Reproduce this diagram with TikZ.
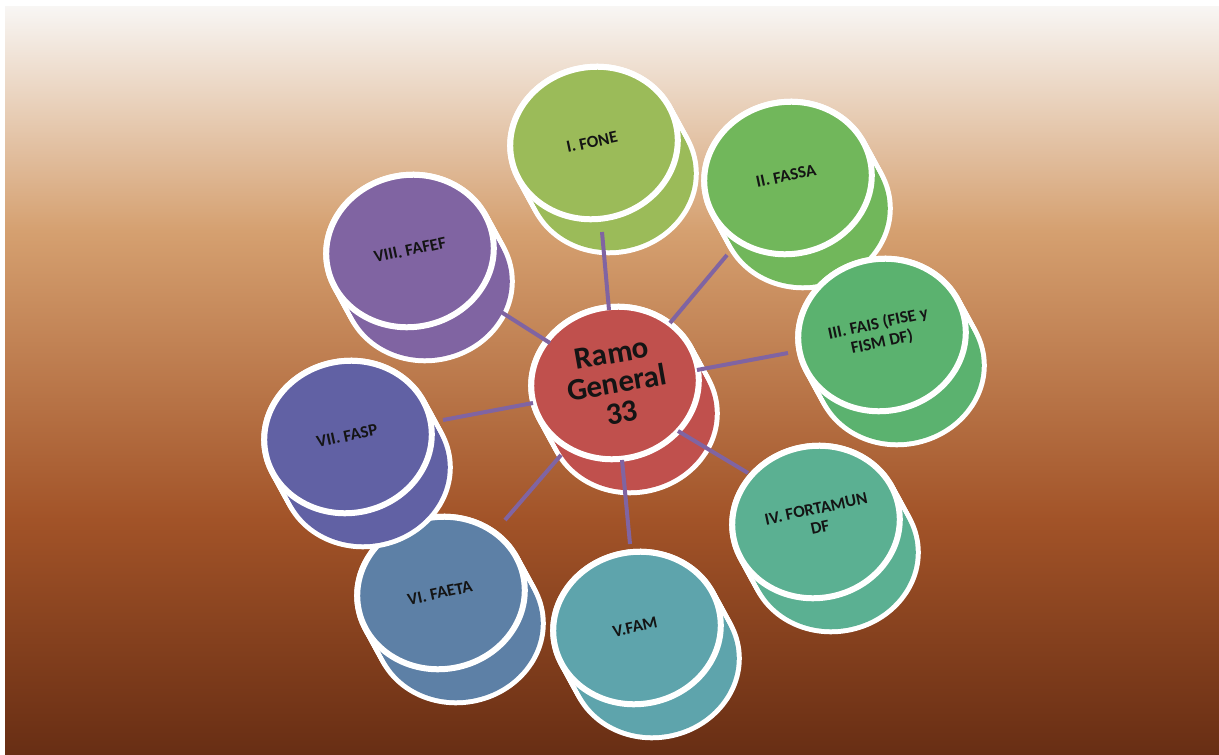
\documentclass[tikz,border=0pt]{standalone}
\usepackage{fontspec}
\setmainfont{Carlito}
\usetikzlibrary{calc}
\definecolor{bgA}{RGB}{104,46,20}
\definecolor{bgB}{RGB}{162,83,40}
\definecolor{bgC}{RGB}{213,160,112}
\definecolor{bgD}{RGB}{248,246,244}
\definecolor{cRamo}{RGB}{192,80,77}
\definecolor{cI}{RGB}{155,187,89}
\definecolor{cII}{RGB}{113,183,91}
\definecolor{cIII}{RGB}{91,178,111}
\definecolor{cIV}{RGB}{91,176,146}
\definecolor{cV}{RGB}{94,164,172}
\definecolor{cVI}{RGB}{93,128,166}
\definecolor{cVII}{RGB}{97,97,164}
\definecolor{cVIII}{RGB}{128,100,162}
\definecolor{link}{RGB}{128,100,162}
\definecolor{ink}{RGB}{20,20,20}
\pgfdeclareverticalshading{bgshade}{100bp}{color(0bp)=(bgA); color(25bp)=(bgA); color(40.7bp)=(bgB); color(60bp)=(bgC); color(75bp)=(bgD); color(100bp)=(bgD)}
\tikzset{
  lbl/.style={font=\bfseries\fontsize{17}{19}\selectfont, align=center, rotate=12, text=ink, inner sep=0pt},
  biglbl/.style={font=\bfseries\fontsize{31}{30}\selectfont, align=center, rotate=10, text=ink, inner sep=0pt},
  connector/.style={draw=link, line width=4pt},
}
% #1 x, #2 y, #3 colour
\newcommand\mycylinder[3]{%
  \foreach \k in {0,...,10}{%
    \draw[white, line width=10pt, shift={(#1+\k*1.8,#2+\k*3.3)}, rotate=10] (0,0) ellipse (82 and 74);}
  \foreach \k in {0,...,10}{%
    \fill[#3, shift={(#1+\k*1.8,#2+\k*3.3)}, rotate=10] (0,0) ellipse (82 and 74);}
  \draw[white, line width=6pt, fill=#3, shift={(#1,#2)}, rotate=10] (0,0) ellipse (84 and 76);
}
\begin{document}
\begin{tikzpicture}[x=1pt,y=-1pt]
\useasboundingbox (0,0) rectangle (1219,755);
\fill[white] (0,0) rectangle (1219,755);
\shade[shading=bgshade] (5,6) rectangle (1219,755);

% cylinders
\mycylinder{615}{383}{cRamo}
\mycylinder{594}{143}{cI}
\mycylinder{788}{178}{cII}
\mycylinder{882}{335}{cIII}
\mycylinder{816}{522}{cIV}
\mycylinder{637}{628}{cV}
\mycylinder{441}{593}{cVI}
\mycylinder{348}{437}{cVII}
\mycylinder{410}{251}{cVIII}

% labels
\node[biglbl] (ramo) at (617,383) {Ramo\\General\\33};
\node[lbl] (fone) at (592,142) {I. FONE};
\node[lbl] (fassa) at (786,176) {II. FASSA};
\node[lbl] (fais) at (880,333) {III. FAIS (FISE y\\FISM DF)};
\node[lbl] (fortamun) at (818,518) {IV. FORTAMUN\\DF};
\node[lbl] (fam) at (635,627) {V.FAM};
\node[lbl] (faeta) at (440,593) {VI. FAETA};
\node[lbl] (fasp) at (347,436) {VII. FASP};
\node[lbl] (fafef) at (410,250) {VIII. FAFEF};

% connector end points
\coordinate (rI) at (609,310);   \coordinate (eI) at (602,232);
\coordinate (rII) at (670,323);  \coordinate (eII) at (727,255);
\coordinate (rIII) at (697,370); \coordinate (eIII) at (788,353);
\coordinate (rIV) at (678,431);  \coordinate (eIV) at (748,473);
\coordinate (rV) at (622,460);   \coordinate (eV) at (630,544);
\coordinate (rVI) at (561,455);  \coordinate (eVI) at (505,520);
\coordinate (rVII) at (533,403); \coordinate (eVII) at (443,420);
\coordinate (rVIII) at (550,343);\coordinate (eVIII) at (498,310);

\foreach \n in {I,II,III,IV,V,VI,VII,VIII}
  \draw[connector] (r\n) -- (e\n);
\end{tikzpicture}
\end{document}
